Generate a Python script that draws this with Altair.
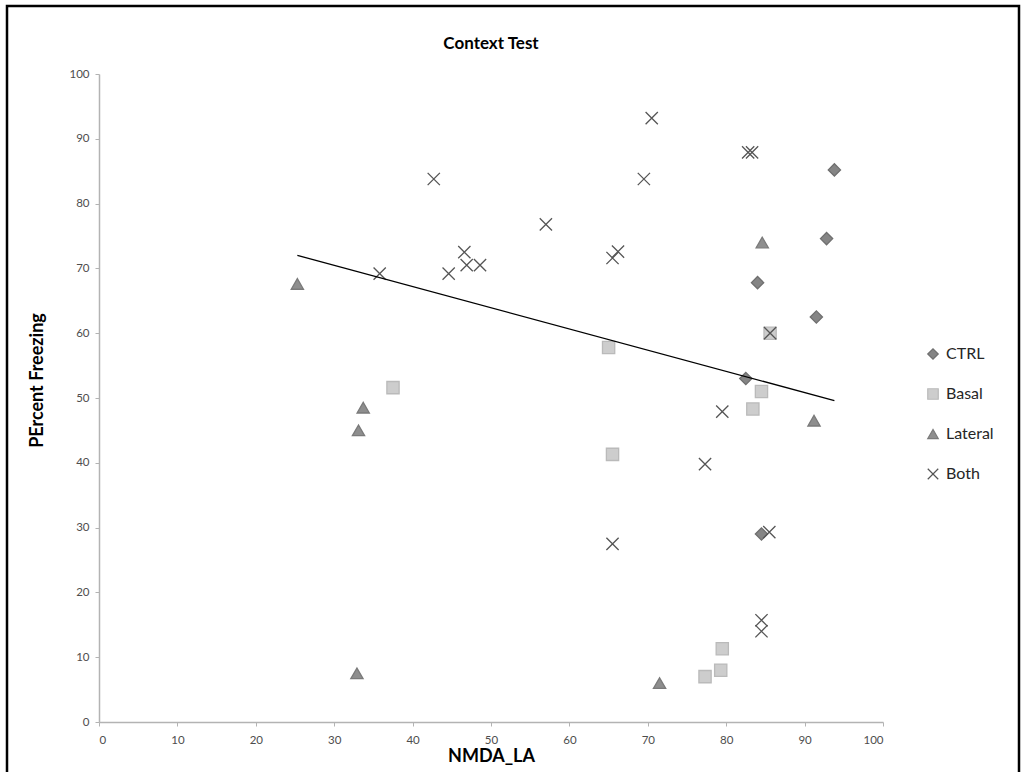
import altair as alt
import pandas as pd

# ---- data ----
series_order = ["CTRL", "Basal", "Lateral", "Both"]

ctrl_x = [93.8, 92.8, 84.0, 91.5, 82.5, 84.5]
ctrl_y = [85.2, 74.6, 67.8, 62.5, 53.0, 29.0]

basal_x = [37.5, 65.0, 65.5, 84.5, 83.4, 85.6, 77.3, 79.3, 79.5]
basal_y = [51.6, 57.8, 41.3, 51.0, 48.3, 60.0, 7.0, 8.0, 11.3]

lateral_x = [25.3, 33.7, 33.1, 32.9, 84.6, 91.2, 71.5]
lateral_y = [67.6, 48.5, 45.0, 7.5, 74.0, 46.5, 6.0]

both_x = [35.8, 42.7, 44.6, 46.6, 46.9, 48.6, 57.0, 65.5, 66.2, 69.5, 70.5,
          82.8, 83.3, 85.6, 79.5, 77.3, 65.5, 85.5, 84.5, 84.5]
both_y = [69.2, 83.8, 69.2, 72.5, 70.5, 70.5, 76.8, 71.6, 72.6, 83.8, 93.2,
          87.9, 87.9, 60.0, 47.9, 39.8, 27.5, 29.3, 15.7, 14.0]

trend_x = [25.3, 93.8]
trend_y = [72.0, 49.6]

tick_values = [0, 10, 20, 30, 40, 50, 60, 70, 80, 90, 100]

rows = []
for name, xs, ys in [("CTRL", ctrl_x, ctrl_y), ("Basal", basal_x, basal_y),
                     ("Lateral", lateral_x, lateral_y), ("Both", both_x, both_y)]:
    for xv, yv in zip(xs, ys):
        rows.append({"series": name, "x": xv, "y": yv})
df = pd.DataFrame(rows)
trend_df = pd.DataFrame({"x": trend_x, "y": trend_y})
frame_df = pd.DataFrame({"k": [0]})

shapes = ["diamond", "square", "triangle-up", "M-1,-1L1,1M-1,1L1,-1"]
fills = ["#858585", "#cdcdcd", "#8e8e8e", "transparent"]
strokes = ["#6f6f6f", "#bababa", "#7a7a7a", "#555555"]

FONT = "Lato"

xscale = alt.Scale(domain=[0, 100], nice=False, zero=False)
yscale = alt.Scale(domain=[0, 100], nice=False, zero=False)

points = alt.Chart(df).mark_point(filled=True, opacity=1, size=150, strokeWidth=1.3).encode(
    x=alt.X("x:Q", scale=xscale,
            axis=alt.Axis(values=tick_values, title="NMDA_LA", labelPadding=8, titlePadding=2)),
    y=alt.Y("y:Q", scale=yscale,
            axis=alt.Axis(values=tick_values, title="PErcent Freezing", labelPadding=6,
                          titlePadding=22, titleY=306)),
    shape=alt.Shape("series:N", scale=alt.Scale(domain=series_order, range=shapes),
                    legend=alt.Legend(title=None)),
    fill=alt.Fill("series:N", scale=alt.Scale(domain=series_order, range=fills),
                  legend=alt.Legend(title=None)),
    stroke=alt.Stroke("series:N", scale=alt.Scale(domain=series_order, range=strokes),
                      legend=alt.Legend(title=None)),
)

trend = alt.Chart(trend_df).mark_line(color="black", strokeWidth=1.3).encode(
    x=alt.X("x:Q", scale=xscale),
    y=alt.Y("y:Q", scale=yscale),
)

frame = alt.Chart(frame_df).mark_rect(filled=False, stroke="black", strokeWidth=2.5).encode(
    x=alt.value(-92), x2=alt.value(920), y=alt.value(-68), y2=alt.value(720)
)

chart = alt.layer(frame, points, trend).properties(
    width=784,
    height=648,
    autosize=alt.AutoSizeParams(type="none"),
    padding={"left": 99, "top": 74, "right": 141, "bottom": 50},
    title=alt.TitleParams("Context Test", fontSize=17, fontWeight="bold", font=FONT,
                          color="black", anchor="middle", offset=0, dy=48),
).configure_view(
    strokeWidth=0
).configure_axis(
    grid=False,
    domainColor="#b3b3b3",
    domainWidth=1.5,
    tickColor="#b3b3b3",
    tickSize=4,
    labelColor="#4d4d4d",
    labelFontSize=11.5,
    labelFont=FONT,
    titleFont=FONT,
    titleFontSize=18,
    titleFontWeight="bold",
    titleColor="black",
).configure_legend(
    orient="none",
    legendX=826,
    legendY=272,
    padding=0,
    labelFont=FONT,
    labelFontSize=16,
    labelColor="#262626",
    symbolSize=110,
    symbolStrokeWidth=1.2,
    rowPadding=24,
    labelOffset=5,
)

chart.save("out.html", embed_options={"renderer": "svg", "actions": False})
